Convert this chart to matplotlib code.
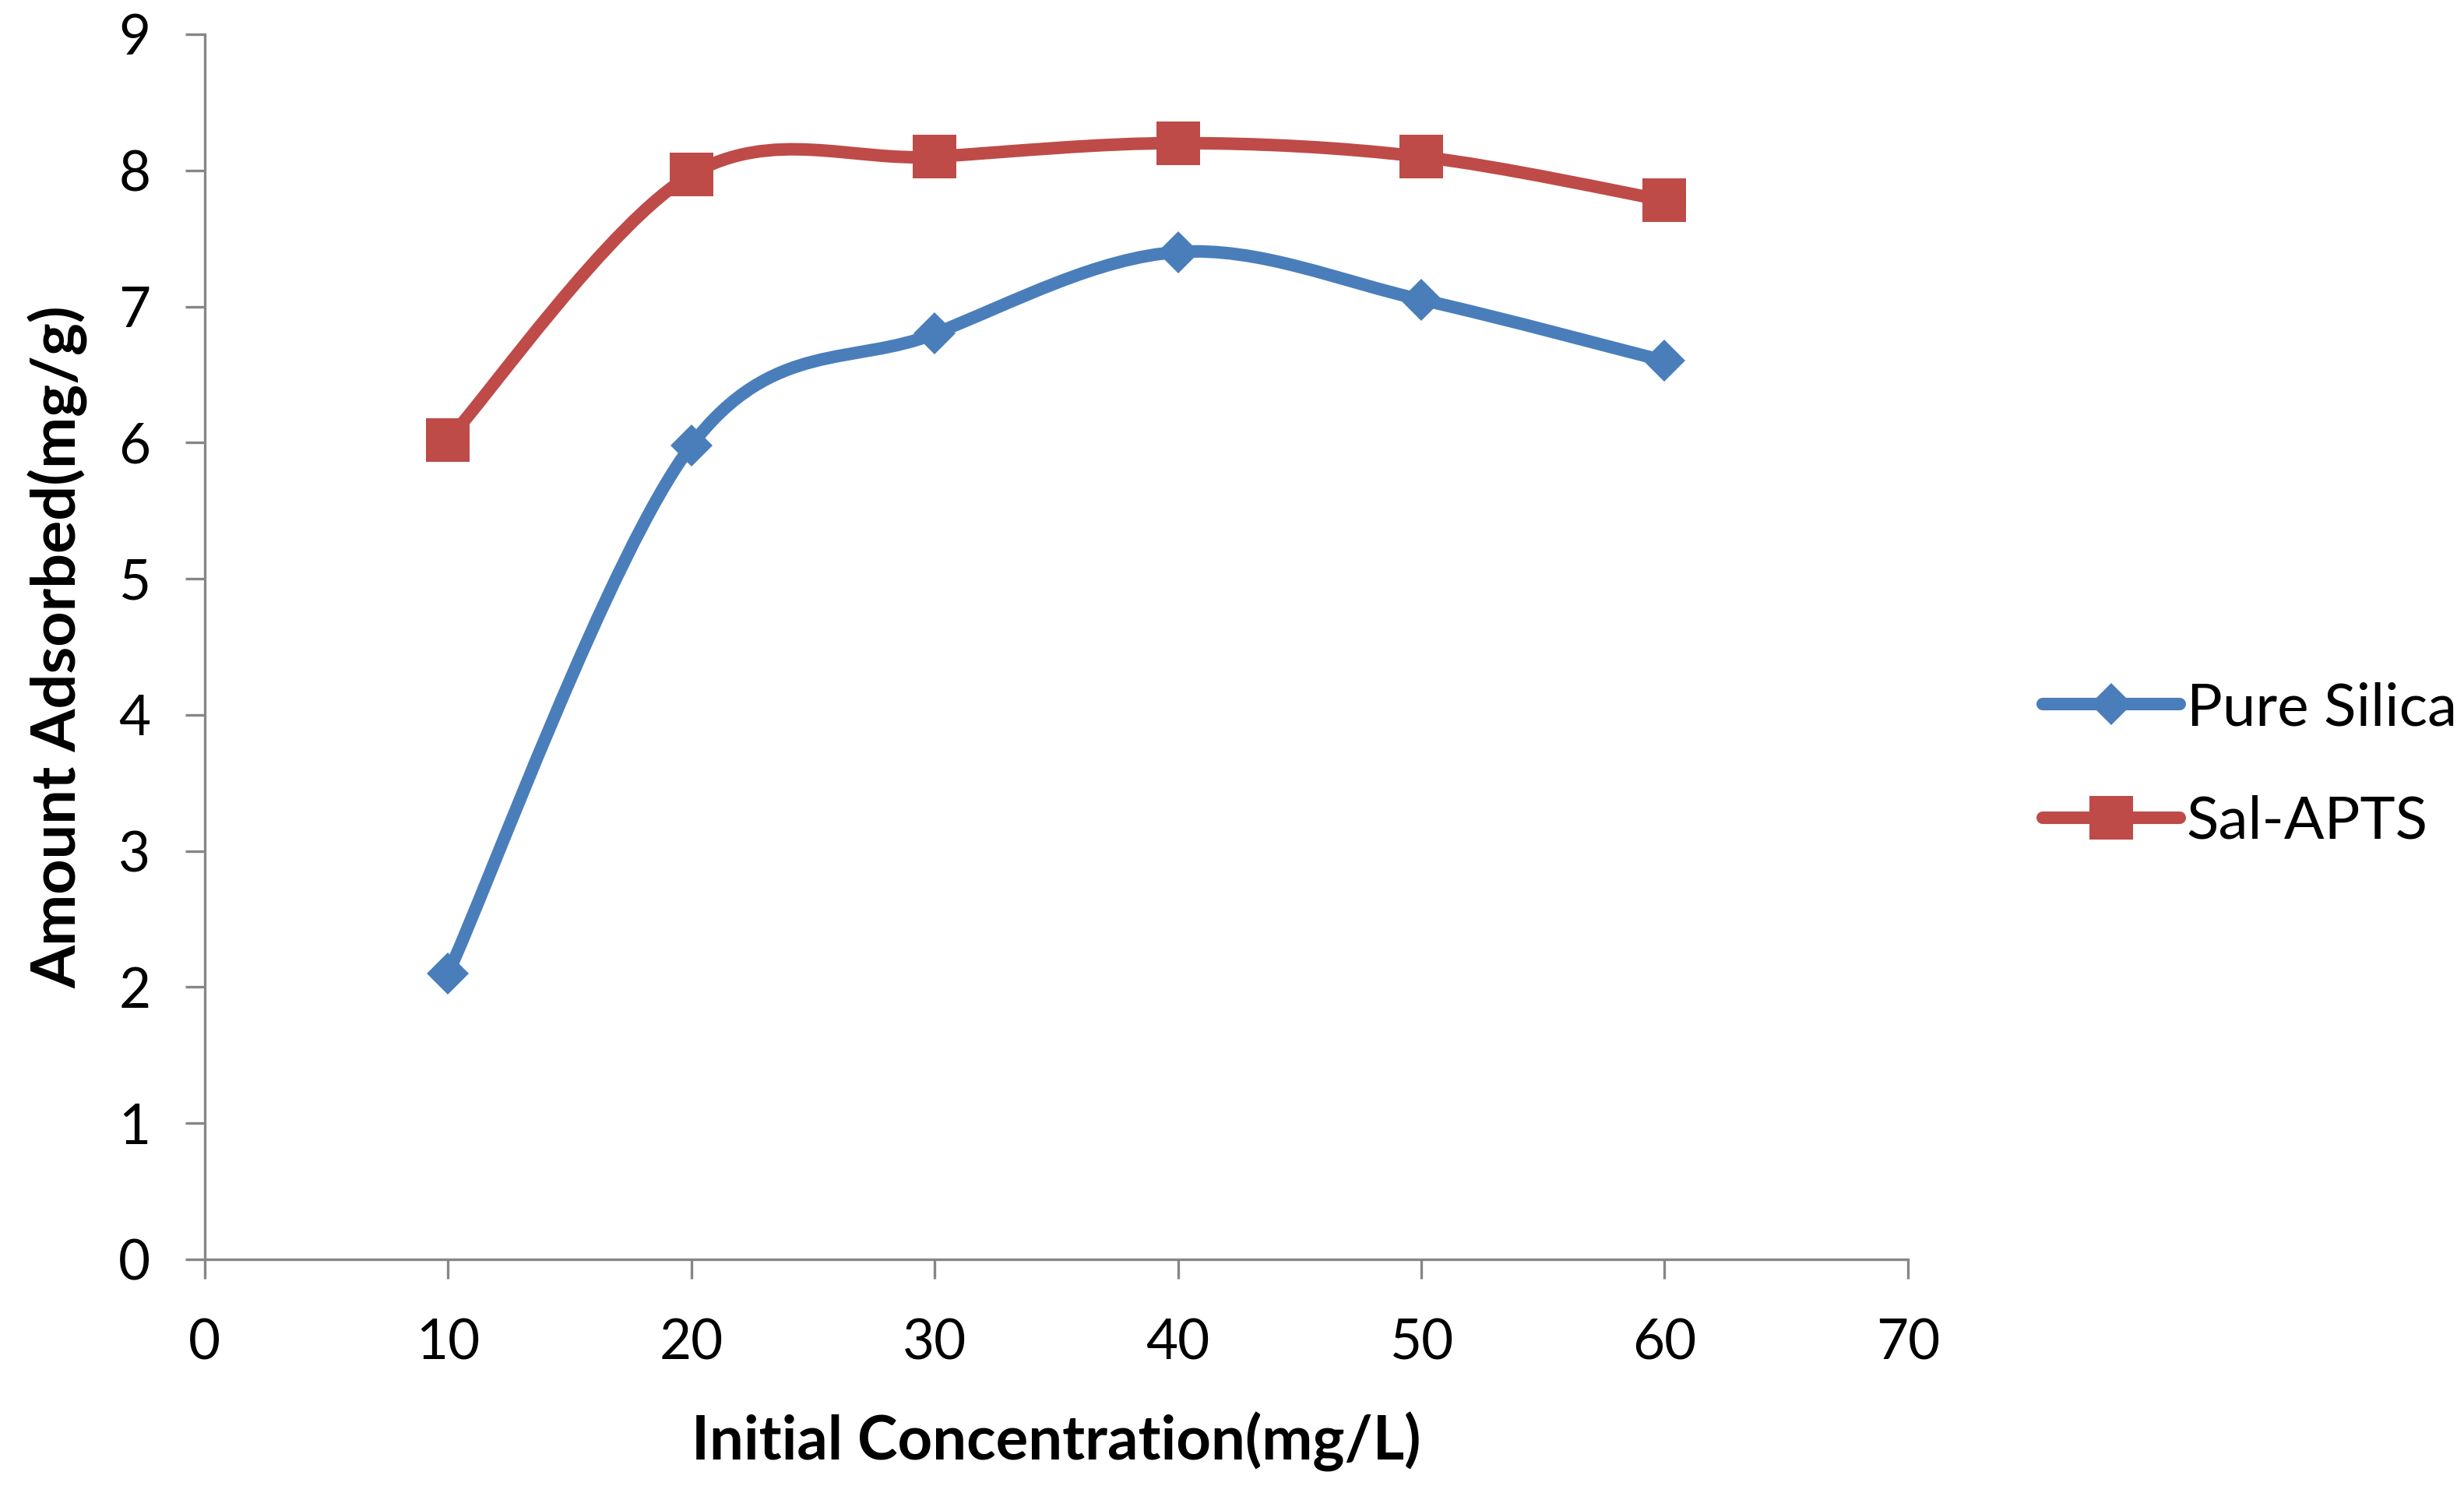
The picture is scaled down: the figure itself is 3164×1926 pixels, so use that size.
import numpy as np
import matplotlib
matplotlib.use("Agg")
import matplotlib.pyplot as plt
from matplotlib.path import Path
from matplotlib.patches import PathPatch
from matplotlib.lines import Line2D

plt.rcParams['font.family'] = ['Lato', 'DejaVu Sans']

# data
conc = [10, 20, 30, 40, 50, 60]
pure_silica = [2.1, 5.98, 6.8, 7.4, 7.05, 6.6]
sal_apts = [6.02, 7.97, 8.1, 8.2, 8.1, 7.78]

blue = '#4A7EBB'
red = '#BE4B48'
grey = '#868686'


def smooth_path(x, y):
    # Catmull-Rom style cubic Bezier through the points (like Excel's smoothed line)
    pts = np.column_stack([x, y]).astype(float)
    n = len(pts)
    verts = [pts[0]]
    codes = [Path.MOVETO]
    for i in range(n - 1):
        p0 = pts[max(i - 1, 0)]
        p1 = pts[i]
        p2 = pts[i + 1]
        p3 = pts[min(i + 2, n - 1)]
        c1 = p1 + (p2 - p0) / 6.0
        c2 = p2 - (p3 - p1) / 6.0
        verts += [c1, c2, p2]
        codes += [Path.CURVE4] * 3
    return Path(verts, codes)


fig = plt.figure(figsize=(15.82, 9.63), dpi=200)
ax = fig.add_axes([0.0831, 0.1604, 0.6912, 0.8168])

for yv, col, mk, ms in [(pure_silica, blue, 'D', 14), (sal_apts, red, 's', 20)]:
    ax.add_patch(PathPatch(smooth_path(conc, yv), transform=ax.transData,
                           fill=False, edgecolor=col, lw=5.8,
                           capstyle='round', joinstyle='round', zorder=3))
    ax.plot(conc, yv, linestyle='none', marker=mk, markersize=ms,
            color=col, markeredgewidth=0, zorder=4)

ax.set_xlim(0, 70)
ax.set_ylim(0, 9)
ax.set_xticks(range(0, 71, 10))
ax.set_yticks(range(0, 10))

for s in ['top', 'right']:
    ax.spines[s].set_visible(False)
for s in ['left', 'bottom']:
    ax.spines[s].set_color(grey)
    ax.spines[s].set_linewidth(1.2)

ax.tick_params(axis='both', direction='out', length=9, width=1.2,
               color=grey, labelsize=25.5, labelcolor='black')
ax.tick_params(axis='y', pad=16)
ax.tick_params(axis='x', pad=18)

ax.set_xlabel('Initial Concentration(mg/L)', fontsize=28, fontweight='bold',
              labelpad=20)
ax.set_ylabel('Amount Adsorbed(mg/g)', fontsize=28.5, fontweight='bold',
              labelpad=14)

handles = [
    Line2D([], [], color=blue, lw=5.8, marker='D', markersize=14,
           markeredgewidth=0, solid_capstyle='round'),
    Line2D([], [], color=red, lw=5.8, marker='s', markersize=20,
           markeredgewidth=0, solid_capstyle='round'),
]
fig.legend(handles, ['Pure Silica', 'Sal-APTS'], loc='center left',
           bbox_to_anchor=(0.829, 0.490), frameon=False, fontsize=27.5,
           handlelength=2.3, handletextpad=0.12, labelspacing=1.0,
           borderpad=0, borderaxespad=0)

fig.savefig('out.png', dpi=200, facecolor='white')
